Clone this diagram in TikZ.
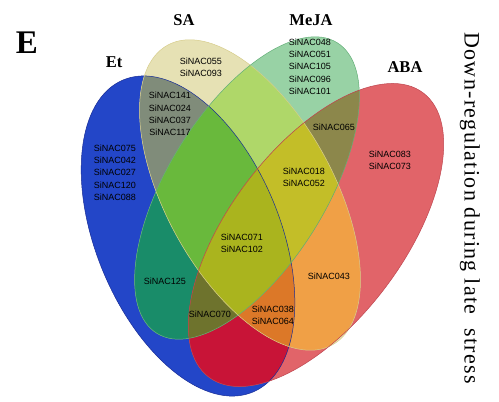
\documentclass[tikz,border=0pt]{standalone}
\usepackage{fontspec}
\setmainfont{Liberation Serif}
\newfontfamily\genefont{Liberation Sans}
\newfontfamily\stagefont[LetterSpace=6]{Liberation Serif}

\def\EtShape{(188,236) ellipse [x radius=92, y radius=169, rotate=22.5]}
\def\SAShape{(250,195) ellipse [x radius=84, y radius=171, rotate=28.8]}
\def\MeJAShape{(247,188) ellipse [x radius=79, y radius=171, rotate=-31.8]}
\def\ABAShape{(316,235) ellipse [x radius=87, y radius=178, rotate=-37]}

\begin{document}
\begin{tikzpicture}[x={(1pt,0pt)},y={(0pt,-1pt)},every node/.style={inner sep=0pt, outer sep=0pt},
  genes/.style={font=\genefont\fontsize{9}{12.3}\selectfont, align=center},
  setname/.style={font=\bfseries\fontsize{16.5}{18}\selectfont}]
\useasboundingbox (0,0) rectangle (499,402);
% one set
\fill[fill={rgb,255:red,35;green,70;blue,200}] \EtShape;
\fill[fill={rgb,255:red,230;green,225;blue,180}] \SAShape;
\fill[fill={rgb,255:red,152;green,210;blue,165}] \MeJAShape;
\fill[fill={rgb,255:red,225;green,100;blue,105}] \ABAShape;
% two sets
\begin{scope}\clip \EtShape; \fill[fill={rgb,255:red,128;green,140;blue,122}] \SAShape; \end{scope}
\begin{scope}\clip \EtShape; \fill[fill={rgb,255:red,25;green,140;blue,105}] \MeJAShape; \end{scope}
\begin{scope}\clip \EtShape; \fill[fill={rgb,255:red,200;green,20;blue,55}] \ABAShape; \end{scope}
\begin{scope}\clip \SAShape; \fill[fill={rgb,255:red,175;green,215;blue,105}] \MeJAShape; \end{scope}
\begin{scope}\clip \SAShape; \fill[fill={rgb,255:red,240;green,160;blue,70}] \ABAShape; \end{scope}
\begin{scope}\clip \MeJAShape; \fill[fill={rgb,255:red,140;green,135;blue,75}] \ABAShape; \end{scope}
% three sets
\begin{scope}\clip \EtShape; \clip \SAShape; \fill[fill={rgb,255:red,105;green,185;blue,60}] \MeJAShape; \end{scope}
\begin{scope}\clip \EtShape; \clip \SAShape; \fill[fill={rgb,255:red,220;green,120;blue,40}] \ABAShape; \end{scope}
\begin{scope}\clip \EtShape; \clip \MeJAShape; \fill[fill={rgb,255:red,110;green,115;blue,45}] \ABAShape; \end{scope}
\begin{scope}\clip \SAShape; \clip \MeJAShape; \fill[fill={rgb,255:red,195;green,190;blue,40}] \ABAShape; \end{scope}
% four sets
\begin{scope}\clip \EtShape; \clip \SAShape; \clip \MeJAShape; \fill[fill={rgb,255:red,170;green,180;blue,30}] \ABAShape; \end{scope}
% outlines
\draw[line width=0.5pt,color={rgb,255:red,25;green,45;blue,150}] \EtShape;
\draw[line width=0.5pt,color={rgb,255:red,215;green,205;blue,140}] \SAShape;
\draw[line width=0.5pt,color={rgb,255:red,100;green,175;blue,120}] \MeJAShape;
\draw[line width=0.5pt,color={rgb,255:red,190;green,70;blue,80}] \ABAShape;
% set names
\node[font=\bfseries\fontsize{33}{36}\selectfont] (E) at (27,43) {E};
\node[setname] (Et) at (114,62) {Et};
\node[setname] (SA) at (184,20) {SA};
\node[setname] (MeJA) at (311,20) {MeJA};
\node[setname] (ABA) at (405,67) {ABA};
\node[rotate=-90,font=\stagefont\fontsize{22}{24}\selectfont] (stage) at (470,208) {Down-regulation during late\ \ stress};
% genes
\node[genes] (etonly) at (115,172.5) {SiNAC075\\SiNAC042\\SiNAC027\\SiNAC120\\SiNAC088};
\node[genes] (saonly) at (201,67) {SiNAC055\\SiNAC093};
\node[genes] (etsa) at (170,114) {SiNAC141\\SiNAC024\\SiNAC037\\SiNAC117};
\node[genes] (mejaonly) at (310,66.5) {SiNAC048\\SiNAC051\\SiNAC105\\SiNAC096\\SiNAC101};
\node[genes] (mejaaba) at (334,127) {SiNAC065};
\node[genes] (abaonly) at (390,160.5) {SiNAC083\\SiNAC073};
\node[genes] (samejaaba) at (304,177) {SiNAC018\\SiNAC052};
\node[genes] (all) at (242,243.5) {SiNAC071\\SiNAC102};
\node[genes] (etmeja) at (165,281) {SiNAC125};
\node[genes] (etmejaaba) at (210,314) {SiNAC070};
\node[genes] (etsaaba) at (273,315) {SiNAC038\\SiNAC064};
\node[genes] (saaba) at (329,276) {SiNAC043};
\end{tikzpicture}
\end{document}
